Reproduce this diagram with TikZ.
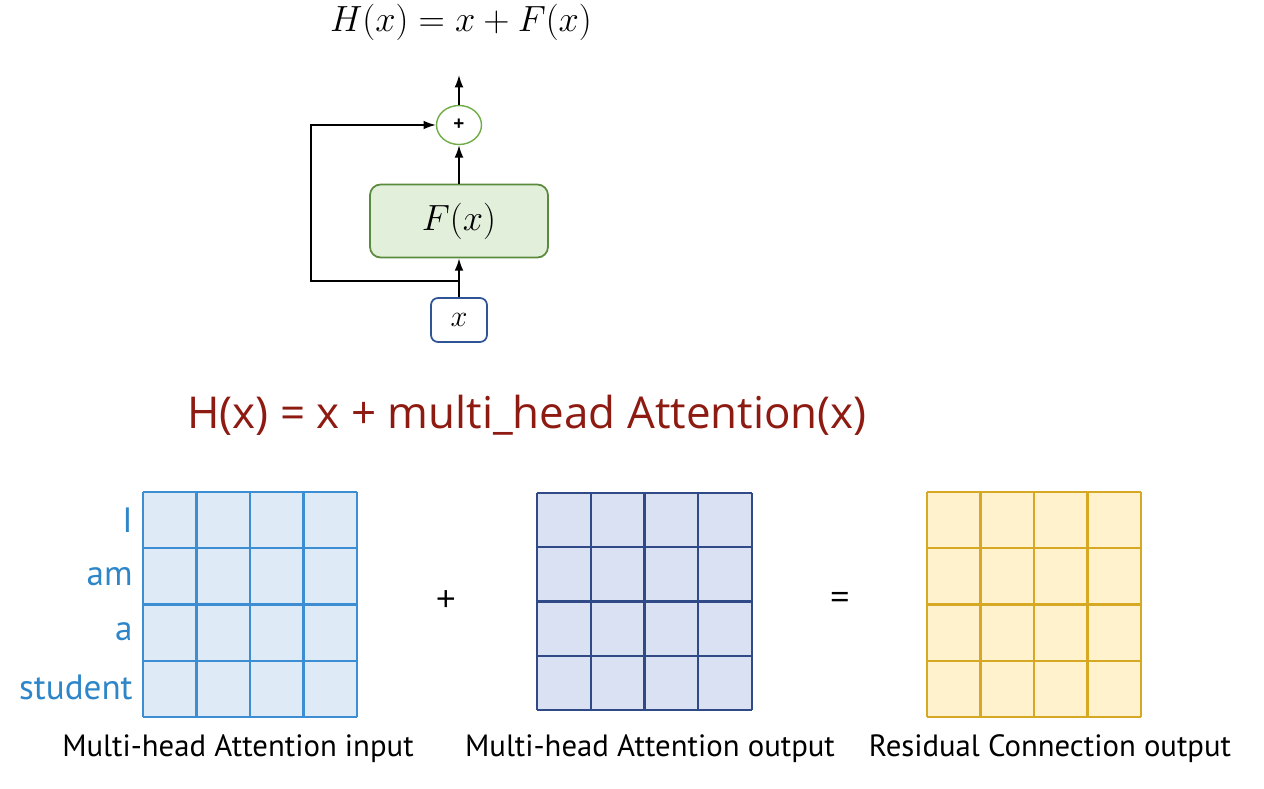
\documentclass[tikz,border=0pt]{standalone}
\usepackage{fontspec}
\setmainfont{Open Sans}
\newfontfamily\capfont{PT Sans}
\usetikzlibrary{shapes.geometric,arrows.meta,positioning}
\definecolor{sumgreen}{HTML}{70AD47}
\definecolor{fgreen}{HTML}{5A8A3C}
\definecolor{fillgreen}{HTML}{E2EFDA}
\definecolor{xblue}{HTML}{2F5597}
\definecolor{eqred}{HTML}{8E1B12}
\definecolor{wordblue}{HTML}{2E86C8}
\definecolor{inline}{HTML}{3C8DD1}
\definecolor{infill}{HTML}{DEEAF6}
\definecolor{outline}{HTML}{2F4A86}
\definecolor{outfill}{HTML}{D9E1F2}
\definecolor{resline}{HTML}{D6A824}
\definecolor{resfill}{HTML}{FFF2CC}

\begin{document}
\begin{tikzpicture}[x=0.02cm,y=-0.02cm,
	sumnode/.style={ellipse,draw=sumgreen,line width=0.8pt,minimum width=0.9cm,minimum height=0.78cm,inner sep=0pt},
	fbox/.style={rectangle,rounded corners=6pt,draw=fgreen,fill=fillgreen,line width=1pt,minimum width=3.56cm,minimum height=1.46cm},
	xbox/.style={rectangle,rounded corners=4pt,draw=xblue,line width=1pt,minimum width=1.12cm,minimum height=0.88cm},
	link/.style={-{Latex[length=7pt,width=5pt]},line width=0.9pt},
	word/.style={anchor=east,text=wordblue,inner sep=0pt,font=\capfont\fontsize{20}{24}\selectfont},
	caption/.style={inner sep=0pt,font=\capfont\fontsize{17.5}{21}\selectfont},
	sign/.style={inner sep=0pt,font=\fontsize{20}{24}\selectfont}]
	\useasboundingbox (0,0) rectangle (1264,788);
	% Residual block:
	\node[font=\fontsize{20}{24}\selectfont] (Hx) at (461,22) {$H(x) = x + F(x)$};
	\node[sumnode] (Sum) at (459,125) {\fontsize{11}{13}\selectfont\textbf{+}};
	\node[fbox] (Fx) at (459,221) {\fontsize{20}{24}\selectfont$F(x)$};
	\node[xbox] (X) at (459,320) {\fontsize{18}{22}\selectfont$x$};
	\coordinate (Top) at (459,75);
	\coordinate (Split) at (459,281);
	\coordinate (Left) at (311,281);
	\draw[link] (X) -- (Fx);
	\draw[link] (Fx) -- (Sum);
	\draw[link] (Sum) -- (Top);
	\draw[link] (Split) -- (Left) |- (Sum.west);
	% Equation:
	\node[text=eqred,font=\fontsize{25}{29}\selectfont] (Eq) at (527,415) {H(x) = x + multi\_head Attention(x)};
	% Matrices:
	\fill[infill] (143,492) rectangle (357,717);
	\foreach \i in {0,...,4}{
		\draw[inline,line width=1.2pt] (143+\i*53.5,492) -- (143+\i*53.5,717);
		\draw[inline,line width=1.2pt] (143,492+\i*56.25) -- (357,492+\i*56.25);
	}
	\fill[outfill] (537,493) rectangle (752,710);
	\foreach \i in {0,...,4}{
		\draw[outline,line width=1.2pt] (537+\i*53.75,493) -- (537+\i*53.75,710);
		\draw[outline,line width=1.2pt] (537,493+\i*54.25) -- (752,493+\i*54.25);
	}
	\fill[resfill] (927,492) rectangle (1141,717);
	\foreach \i in {0,...,4}{
		\draw[resline,line width=1.2pt] (927+\i*53.5,492) -- (927+\i*53.5,717);
		\draw[resline,line width=1.2pt] (927,492+\i*56.25) -- (1141,492+\i*56.25);
	}
	\node[word] (wI) at (133,520) {I};
	\node[word] (wAm) at (133,577) {am};
	\node[word] (wA) at (133,632) {a};
	\node[word] (wStudent) at (133,687) {student};
	\node[sign] (Plus) at (446,601) {+};
	\node[sign] (Equal) at (840,601) {=};
	\node[caption] (capIn) at (238,749) {Multi-head Attention input};
	\node[caption] (capOut) at (650,749) {Multi-head Attention output};
	\node[caption] (capRes) at (1050,749) {Residual Connection output};
\end{tikzpicture}
\end{document}
